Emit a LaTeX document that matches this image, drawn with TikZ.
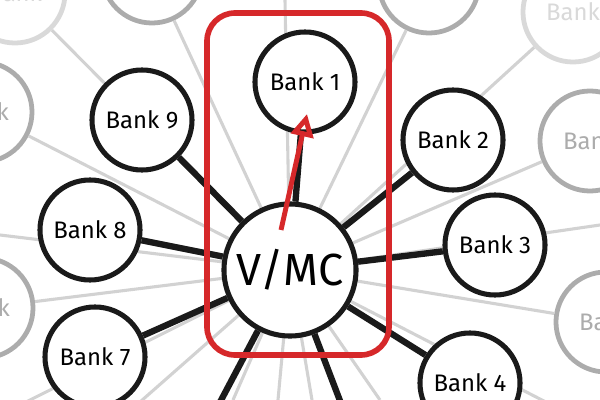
\documentclass[tikz,border=0pt]{standalone}
\usepackage{fontspec}
\setmainfont{Fira Sans}
\usetikzlibrary{arrows.meta}
\definecolor{penred}{RGB}{214,40,42}
\definecolor{ink}{RGB}{26,26,26}
\newcommand{\banknode}[3]{\node[bank] (#1) at (#2) {#3}}
\newcommand{\ghostnode}[4]{\node[ghost,draw=#4,text=#4] (#1) at (#2) {#3}}

\begin{document}
\begin{tikzpicture}[x=0.025cm,y=-0.025cm,
	bank/.style={circle,draw=ink,line width=3.6pt,fill=white,minimum size=2.5cm,inner sep=0pt,font=\fontsize{17}{20}\selectfont},
	ghost/.style={circle,line width=3.4pt,fill=white,minimum size=2.5cm,inner sep=0pt,font=\fontsize{17}{20}\selectfont},
	faint/.style={gray!35,line width=2.2pt},
	link/.style={ink,line width=4.5pt}]
\useasboundingbox (0,0) rectangle (600,400);
\clip (0,0) rectangle (600,400);
\coordinate (hub) at (290,270);
% faded banks round the edge
\ghostnode{bgA}{15,-7}{Bank}{gray!30};
\ghostnode{bgB}{152,-27}{}{gray!65};
\ghostnode{bgC}{429,-17}{}{gray!65};
\ghostnode{bgD}{573,12}{Bank}{gray!30};
\ghostnode{bgE}{590,141}{Bank}{gray!65};
\ghostnode{bgF}{-18,112}{Bank}{gray!65};
\ghostnode{bgG}{-17,308}{Bank}{gray!65};
\ghostnode{bgH}{606,322}{Bank}{gray!65};
%
\foreach \n/\x/\y in {eTop/285/0, eRight/600/225, eLow/600/430, eLeft/0/235,
	eSw/20/405, eSsw/140/402, eS1/233/400, eS2/278/400, eS3/312/400, eS4/380/400}
	\coordinate (\n) at (\x,\y);
\foreach \t in {bgA,bgB,bgC,bgD,bgE,bgF,bgG,bgH,eTop,eRight,eLow,eLeft,eSw,eSsw,eS1,eS2,eS3,eS4}
	\draw[faint] (hub) -- (\t);
%
\banknode{bank1}{305,82}{Bank 1};
\banknode{bank2}{453,140}{Bank 2};
\banknode{bank3}{495,245}{Bank 3};
\banknode{bank4}{470,383}{Bank 4};
\banknode{bank7}{95,357}{Bank 7};
\banknode{bank8}{90,230}{Bank 8};
\banknode{bank9}{142,120}{Bank 9};
\node[bank,minimum size=3.3cm,font=\fontsize{32}{36}\selectfont] (vmc) at (hub) {V/MC};
%
\coordinate (b5) at (355,440);
\coordinate (b6) at (200,440);
\foreach \b in {bank1,bank2,bank3,bank4,bank7,bank8,bank9,b5,b6}
	\draw[link] (vmc) -- (\b);
%
\draw[penred,line width=4pt,rounded corners=0.7cm] (207,13) rectangle (389,355);
\coordinate (tail) at (281,230);
\coordinate (tip) at (307,114);
\draw[penred,line width=3.5pt,-{Triangle[open,length=16pt,width=16pt]}] (tail) -- (tip);
\end{tikzpicture}
\end{document}
